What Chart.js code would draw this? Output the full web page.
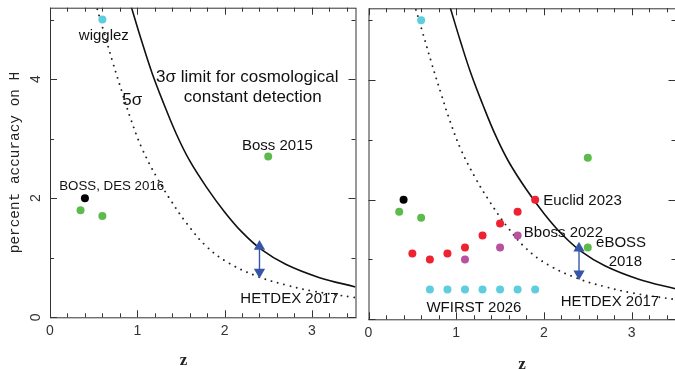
<!DOCTYPE html>
<html>
<head>
<meta charset="utf-8">
<script src="https://cdn.jsdelivr.net/npm/chart.js@4.4.1/dist/chart.umd.min.js"></script>
<style>
html,body{margin:0;padding:0;background:#fff;overflow:hidden;width:675px;height:369px;}
#w1{position:absolute;left:0;top:0;width:362px;height:369px;}
#w2{position:absolute;left:362px;top:0;width:320px;height:369px;}
</style>
</head>
<body>
<div id="w1"><canvas id="c1" width="362" height="369"></canvas></div>
<div id="w2"><canvas id="c2" width="320" height="369"></canvas></div>
<script>
// ---- axis ticks ----
const xTickValues = [0,0.2,0.4,0.6,0.8,1,1.2,1.4,1.6,1.8,2,2.2,2.4,2.6,2.8,3,3.2,3.4];
const xLabelValues = [0,1,2,3];
const yTickValues = [0,1,2,3,4,5];
const yLabelValues = [0,2,4];

// ---- limit curves ----
const limit3Z = [0.93,1.05,1.17,1.30,1.45,1.60,1.80,2.00,2.20,2.42,2.70,3.08,3.5];
const limit3V = [5.22,4.64,4.10,3.60,3.07,2.63,2.17,1.77,1.43,1.14,0.89,0.67,0.51];
const limit5Z = [0.52,0.62,0.72,0.83,0.93,1.05,1.22,1.39,1.57,1.80,2.05,2.39,2.71,3.01,3.5];
const limit5V = [5.28,4.78,4.28,3.76,3.31,2.85,2.36,1.95,1.57,1.18,0.91,0.68,0.54,0.44,0.33];

// ---- surveys ----
const wigglezZ = [0.6];           const wigglezV = [5.0];
const bossDesZ = [0.4];           const bossDesV = [2.0];
const greenZ = [0.35,0.6,2.5];    const greenV = [1.8,1.7,2.7];
const ebossZ = [2.5];             const ebossV = [1.2];
const euclidZ = [0.5,0.7,0.9,1.1,1.3,1.5,1.7,1.9];
const euclidV = [1.1,1.0,1.1,1.2,1.4,1.6,1.8,2.0];
const bbossZ = [1.1,1.5,1.7];     const bbossV = [1.0,1.2,1.4];
const wfirstZ = [0.7,0.9,1.1,1.3,1.5,1.7,1.9];
const wfirstV = [0.5,0.5,0.5,0.5,0.5,0.5,0.5];
const hetdexZ = [2.4,2.4];        const hetdexV = [0.76,1.19];

const pts = (zs, vs) => zs.map((z,i)=>({x:z,y:vs[i]}));

const C = {cyan:'#5ecdde', green:'#5dbb4c', black:'#000000', red:'#ee2230', purple:'#b8529f', blue:'#3556a8'};

function pointSet(zs, vs, color){
  return {data:pts(zs,vs), showLine:false, pointRadius:4, pointHoverRadius:4,
          pointBackgroundColor:color, pointBorderWidth:0, borderWidth:0};
}
function curves(){
  return [
    {data:pts(hetdexZ,hetdexV), showLine:true, borderColor:C.blue, borderWidth:1.4,
     pointStyle:'triangle', pointRotation:[180,0], pointRadius:6.5, pointHoverRadius:6.5,
     pointBackgroundColor:C.blue, pointBorderColor:C.blue, pointBorderWidth:0},
    {data:pts(limit3Z,limit3V), showLine:true, borderColor:'#111', borderWidth:1.6,
     pointRadius:0, tension:0.4},
    {data:pts(limit5Z,limit5V), showLine:true, borderColor:'#222', borderWidth:1.9,
     borderDash:[0.01,6.5], borderCapStyle:'round', pointRadius:0, tension:0.4}
  ];
}

const framePlugin = {
  id:'frame',
  afterDatasetsDraw(chart, args, o){
    const ctx = chart.ctx, a = chart.chartArea, xs = chart.scales.x, ys = chart.scales.y;
    ctx.save();
    ctx.strokeStyle = '#333'; ctx.lineWidth = 1;
    ctx.strokeRect(a.left+0.5, a.top+0.5, a.right-a.left, a.bottom-a.top);
    const line=(x1,y1,x2,y2)=>{ctx.beginPath();ctx.moveTo(x1,y1);ctx.lineTo(x2,y2);ctx.stroke();};
    xTickValues.forEach(v=>{
      const px = Math.round(xs.getPixelForValue(v))+0.5;
      const len = xLabelValues.includes(v) ? 7 : 4;
      line(px, a.bottom, px, a.bottom-len);
      line(px, a.top, px, a.top+len);
    });
    yTickValues.forEach(v=>{
      const py = Math.round(ys.getPixelForValue(v))+0.5;
      const len = yLabelValues.includes(v) ? 7 : 4;
      line(a.left, py, a.left+len, py);
      line(a.right, py, a.right-len, py);
    });
    // x tick labels
    ctx.fillStyle = '#333';
    ctx.font = '14px "Liberation Sans", Arial, sans-serif';
    ctx.textAlign = 'center'; ctx.textBaseline = 'middle';
    xLabelValues.forEach(v=>{
      ctx.fillText(String(v), xs.getPixelForValue(v), a.bottom + o.xLabelOffset);
    });
    // y tick labels (rotated)
    if (o.yLabels){
      yLabelValues.forEach(v=>{
        ctx.save();
        ctx.translate(o.yLabelX, ys.getPixelForValue(v));
        ctx.rotate(-Math.PI/2);
        ctx.fillText(String(v), 0, 0);
        ctx.restore();
      });
      ctx.save();
      ctx.fillStyle = '#222';
      ctx.font = '14.4px "Liberation Mono", "Courier New", monospace';
      ctx.translate(o.yTitleX, (a.top+a.bottom)/2);
      ctx.rotate(-Math.PI/2);
      ctx.fillText('percent accuracy on H', 0, 0);
      ctx.restore();
    }
    // x title
    ctx.fillStyle = '#222';
    ctx.font = 'bold 17px "Liberation Serif", "Times New Roman", serif';
    ctx.fillText('z', xs.getPixelForValue(o.xTitleZ), o.xTitleY);
    // annotations
    ctx.fillStyle = '#111';
    ctx.textBaseline = 'alphabetic';
    o.notes.forEach(n=>{
      ctx.font = n.size + 'px "Liberation Sans", Arial, sans-serif';
      ctx.fillText(n.t, xs.getPixelForValue(n.z), ys.getPixelForValue(n.v));
    });
    ctx.restore();
  }
};

function makeOptions(pad, xh, yw, frame){
  return {
    responsive:false, animation:false, devicePixelRatio:1,
    layout:{padding:pad},
    plugins:{legend:{display:false}, tooltip:{enabled:false}, frame:frame},
    scales:{
      x:{type:'linear', min:0, max:3.5, ticks:{display:false}, grid:{display:false}, border:{display:false},
         afterFit(s){ s.height = xh; }},
      y:{type:'linear', min:0, max:5.2, ticks:{display:false}, grid:{display:false}, border:{display:false},
         afterFit(s){ s.width = yw; }}
    }
  };
}

new Chart(document.getElementById('c1'), {
  type:'scatter',
  data:{datasets:[
    pointSet(wigglezZ, wigglezV, C.cyan),
    pointSet(bossDesZ, bossDesV, C.black),
    pointSet(greenZ, greenV, C.green),
    ...curves()
  ]},
  options: makeOptions({top:7.7,right:2.7,left:0,bottom:0}, 51.7, 50, {
    yLabels:true, yLabelX:36, yTitleX:15, xLabelOffset:14, xTitleZ:1.53, xTitleY:361,
    notes:[
      {t:'wigglez', z:0.617, v:4.657, size:15},
      {t:'3\u03c3 limit for cosmological', z:2.26, v:3.957, size:17},
      {t:'constant detection', z:2.323, v:3.621, size:17},
      {t:'5\u03c3', z:0.943, v:3.566, size:17},
      {t:'Boss 2015', z:2.605, v:2.81, size:15},
      {t:'BOSS, DES 2016', z:0.707, v:2.138, size:13.3},
      {t:'HETDEX 2017', z:2.744, v:0.235, size:15}
    ]
  })
  ,plugins:[framePlugin]
});

new Chart(document.getElementById('c2'), {
  type:'scatter',
  data:{datasets:[
    pointSet(wigglezZ, wigglezV, C.cyan),
    pointSet(bossDesZ, bossDesV, C.black),
    pointSet(greenZ, greenV, C.green),
    pointSet(ebossZ, ebossV, C.green),
    pointSet(euclidZ, euclidV, C.red),
    pointSet(bbossZ, bbossV, C.purple),
    pointSet(wfirstZ, wfirstV, C.cyan),
    ...curves()
  ]},
  options: makeOptions({top:8.3,right:5,left:0,bottom:0}, 49.7, 4.7, {
    yLabels:false, xLabelOffset:14, xTitleZ:1.75, xTitleY:365,
    notes:[
      {t:'Euclid 2023', z:2.44, v:1.911, size:15},
      {t:'Bboss 2022', z:2.222, v:1.371, size:15},
      {t:'eBOSS', z:2.88, v:1.214, size:15},
      {t:'2018', z:2.928, v:0.896, size:15},
      {t:'WFIRST 2026', z:1.202, v:0.117, size:15},
      {t:'HETDEX 2017', z:2.753, v:0.222, size:15}
    ]
  })
  ,plugins:[framePlugin]
});
</script>
</body>
</html>
